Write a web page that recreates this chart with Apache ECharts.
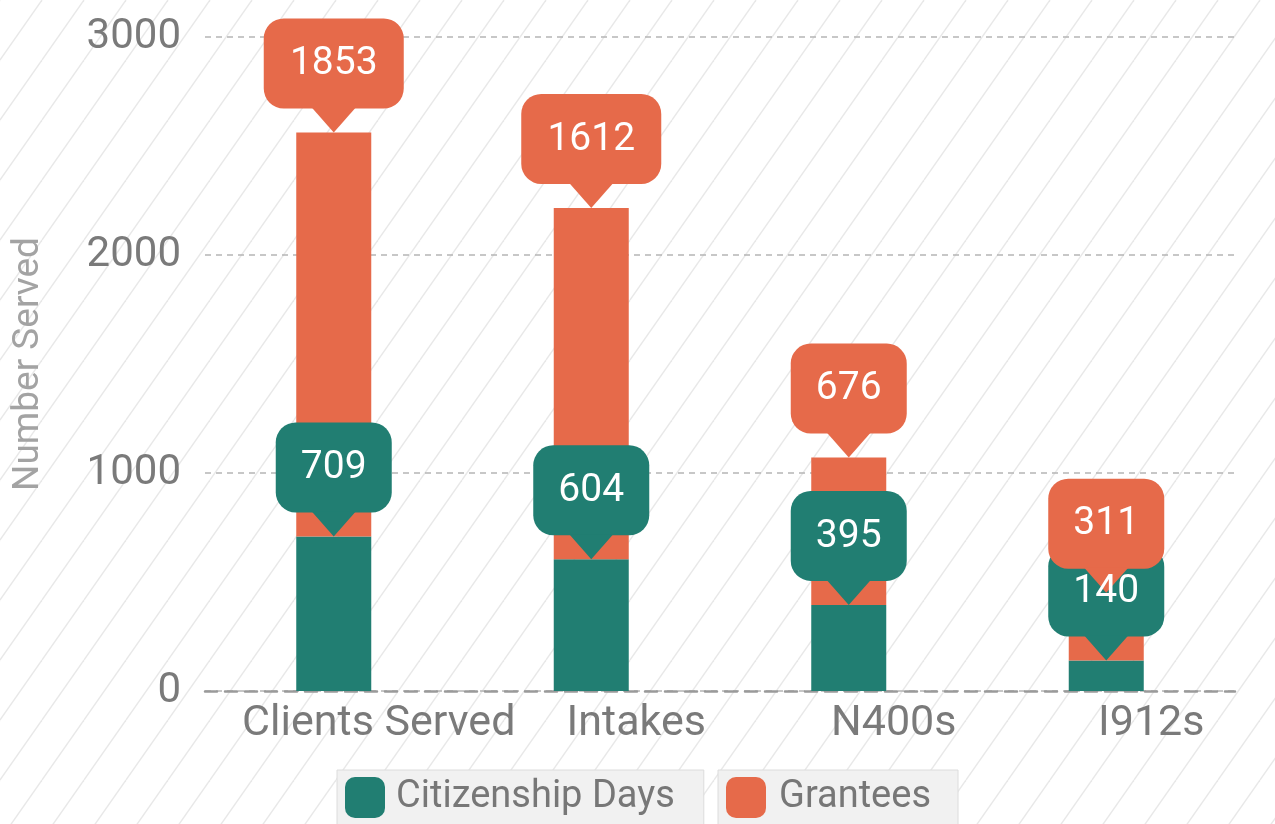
<!DOCTYPE html>
<html>
<head>
<meta charset="utf-8">
<style>
  html, body { margin: 0; padding: 0; background: #fff; }
  #chart { width: 1275px; height: 824px; }
</style>
<script src="https://cdn.jsdelivr.net/npm/echarts@6/dist/echarts.min.js"></script>
</head>
<body>
<div id="chart"></div>
<script>
  var categories = ['Clients Served', 'Intakes', 'N400s', 'I912s']
  var citizenshipDays = [709, 604, 395, 140]
  var grantees = [1853, 1612, 676, 311]
  var yTicks = [0, 1000, 2000, 3000]

  var GREEN = '#217e72'
  var ORANGE = '#e66a4a'
  var FONT = 'Roboto, "Liberation Sans", sans-serif'

  // diagonal hatch background
  function hatch() {
    var w = 42, h = 60
    var c = document.createElement('canvas')
    c.width = w
    c.height = h
    var ctx = c.getContext('2d')
    ctx.fillStyle = '#ffffff'
    ctx.fillRect(0, 0, w, h)
    ctx.strokeStyle = '#e8e8e8'
    ctx.lineWidth = 1.4
    for (var k = -1; k <= 1; k++) {
      ctx.beginPath()
      ctx.moveTo(k * w, h)
      ctx.lineTo(k * w + w, 0)
      ctx.stroke()
    }
    return c
  }

  // bubble labels: [index, stack top, value, level]
  var bubbles = []
  categories.forEach(function (c, i) {
    bubbles.push([i, citizenshipDays[i], citizenshipDays[i], 0])
  })
  categories.forEach(function (c, i) {
    bubbles.push([i, citizenshipDays[i] + grantees[i], grantees[i], 1])
  })

  function renderBubble(params, api) {
    var pt = api.coord([api.value(0), api.value(1)])
    var val = String(api.value(2))
    var level = api.value(3)
    var color = level === 0 ? GREEN : ORANGE
    var w = val.length > 3 ? 140 : 116
    var bodyH = 90
    var tipH = 24
    var half = 22
    var bottom = pt[1] - tipH
    var top = bottom - bodyH
    return {
      type: 'group',
      children: [
        {
          type: 'rect',
          z2: level + 1,
          shape: { x: pt[0] - w / 2, y: top, width: w, height: bodyH, r: 20 },
          style: { fill: color }
        },
        {
          type: 'polygon',
          z2: level + 1,
          shape: { points: [[pt[0] - half, bottom - 1], [pt[0] + half, bottom - 1], [pt[0], pt[1]]] },
          style: { fill: color }
        },
        {
          type: 'text',
          z2: 5,
          style: {
            text: val,
            x: pt[0],
            y: top + bodyH / 2 + 1,
            align: 'center',
            verticalAlign: 'middle',
            fill: '#ffffff',
            font: '39px ' + FONT
          }
        }
      ]
    }
  }

  var legendBase = {
    top: 770,
    backgroundColor: '#f1f1f1',
    borderColor: '#dcdcdc',
    borderWidth: 1,
    icon: 'roundRect',
    itemWidth: 40,
    itemHeight: 41,
    selectedMode: false
  }

  var chart = echarts.init(document.getElementById('chart'))
  chart.setOption({
    backgroundColor: { image: hatch(), repeat: 'repeat' },
    animation: false,
    textStyle: { fontFamily: FONT },
    grid: { left: 205, right: 40, top: 37, bottom: 133, outerBoundsMode: 'none', containLabel: false },
    legend: [
      Object.assign({}, legendBase, {
        data: ['Citizenship Days'],
        left: 337,
        padding: [7, 29, 8, 8],
        textStyle: { fontSize: 38, color: '#777', padding: [0, 0, 0, 6] }
      }),
      Object.assign({}, legendBase, {
        data: ['Grantees'],
        left: 718,
        padding: [7, 27, 8, 8],
        textStyle: { fontSize: 38, color: '#777', padding: [0, 0, 0, 8] }
      })
    ],
    xAxis: {
      type: 'category',
      data: categories,
      axisTick: { show: false },
      axisLine: {
        show: true,
        lineStyle: { color: '#9a9a9a', width: 2.5, type: [12, 8] }
      },
      axisLabel: {
        fontSize: 43,
        color: '#7a7a7a',
        margin: 12,
        padding: [0, 0, 0, 90],
        interval: 0
      }
    },
    yAxis: {
      type: 'value',
      min: yTicks[0],
      max: yTicks[yTicks.length - 1],
      interval: 1000,
      name: 'Number Served',
      nameLocation: 'middle',
      nameGap: 158,
      nameTextStyle: { fontSize: 37, color: '#a3a3a3' },
      axisLine: { show: false },
      axisTick: { show: false },
      axisLabel: {
        fontSize: 42,
        color: '#7a7a7a',
        margin: 24,
        formatter: function (v) { return String(v) }
      },
      splitLine: {
        lineStyle: { color: '#b5b5b5', width: 1.5, type: [6, 5] }
      }
    },
    series: [
      {
        name: 'Citizenship Days',
        type: 'bar',
        stack: 'total',
        barWidth: 75,
        itemStyle: { color: GREEN },
        data: citizenshipDays
      },
      {
        name: 'Grantees',
        type: 'bar',
        stack: 'total',
        barWidth: 75,
        itemStyle: { color: ORANGE },
        data: grantees
      },
      {
        type: 'custom',
        z: 10,
        renderItem: renderBubble,
        data: bubbles,
        silent: true
      }
    ]
  })
</script>
</body>
</html>
